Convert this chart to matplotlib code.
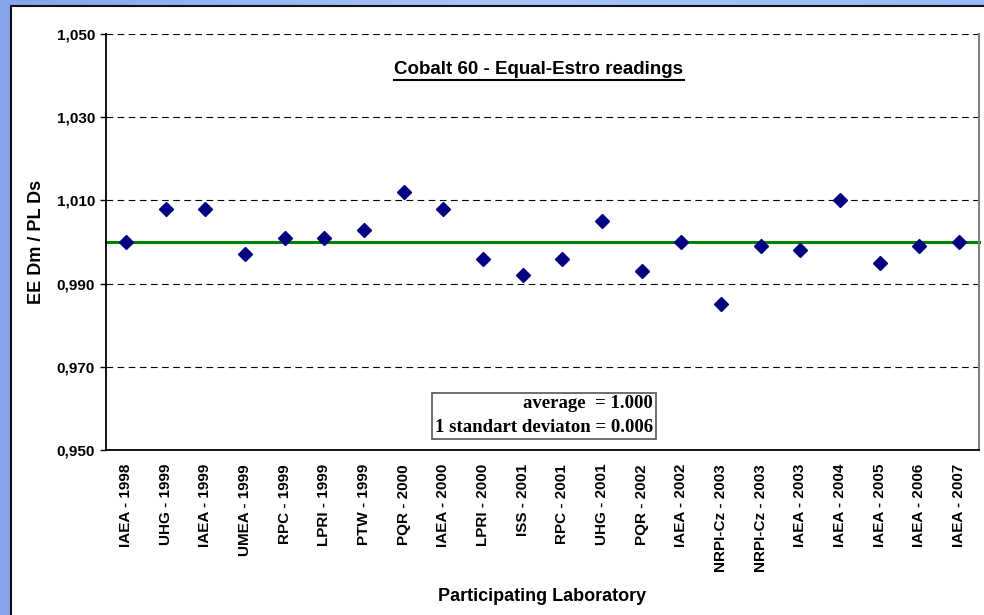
import numpy as np
import matplotlib.pyplot as plt
from matplotlib.patches import Rectangle
from matplotlib.colors import LinearSegmentedColormap
from matplotlib.ticker import FuncFormatter

labs = ['IAEA - 1998', 'UHG - 1999', 'IAEA - 1999', 'UMEA - 1999', 'RPC - 1999',
        'LPRI - 1999', 'PTW - 1999', 'PQR - 2000', 'IAEA - 2000', 'LPRI - 2000',
        'ISS - 2001', 'RPC - 2001', 'UHG - 2001', 'PQR - 2002', 'IAEA - 2002',
        'NRPI-Cz - 2003', 'NRPI-Cz - 2003', 'IAEA - 2003', 'IAEA - 2004',
        'IAEA - 2005', 'IAEA - 2006', 'IAEA - 2007']
ratio = [1.000, 1.008, 1.008, 0.997, 1.001, 1.001, 1.003, 1.012, 1.008, 0.996,
         0.992, 0.996, 1.005, 0.993, 1.000, 0.985, 0.999, 0.998, 1.010, 0.995,
         0.999, 1.000]
avg = 1.000
yticks = [0.95, 0.97, 0.99, 1.01, 1.03, 1.05]

plt.rcParams['font.family'] = 'Liberation Sans'

fig = plt.figure(figsize=(9.84, 6.15), dpi=100)

# blue gradient background with the white chart panel
bg = fig.add_axes([0, 0, 1, 1], zorder=-10)
grad = np.linspace(0, 1, 256).reshape(1, -1)
bg.imshow(grad, aspect='auto', extent=[0, 1, 0, 1],
          cmap=LinearSegmentedColormap.from_list('b', ['#86a4ec', '#a9c4fb', '#9ab8f6']))
bg.add_patch(Rectangle((11 / 984, -0.05), 1.1, 1.05 - 6 / 615, facecolor='white',
                       edgecolor='#111111', lw=1.5))
bg.set_xlim(0, 1)
bg.set_ylim(0, 1)
bg.axis('off')

W, H = 984, 615
ax = fig.add_axes([106 / W, 1 - 450 / H, (979 - 106) / W, (450 - 34) / H])
ax.set_facecolor('white')

x = np.arange(len(ratio))
for yv in yticks[1:]:
    ax.axhline(yv, color='black', lw=0.8, ls=(0, (6, 4)), zorder=1)
ax.axhline(avg, color='#008000', lw=2.2, zorder=2, clip_on=False)
ax.plot(x, ratio, ls='none', marker='D', ms=7.5, color='#000080', zorder=3)

ax.set_xlim(-0.5, len(ratio) - 0.5)
ax.set_ylim(0.95, 1.05)
ax.set_yticks(yticks)
ax.yaxis.set_major_formatter(FuncFormatter(lambda v, p: f'{v:.3f}'.replace('.', ',')))
ax.set_xticks(x)
ax.set_xticklabels(labs, rotation=90, fontweight='bold', fontsize=11)
ax.tick_params(axis='x', length=0, pad=10)
ax.tick_params(axis='y', length=4, width=1, labelsize=11, pad=4)
for t in ax.get_yticklabels():
    t.set_fontweight('bold')

ax.spines['top'].set_visible(False)
ax.spines['right'].set_color('#808080')
ax.spines['right'].set_linewidth(1.5)
ax.spines['left'].set_linewidth(1.3)
ax.spines['bottom'].set_linewidth(1.3)

ax.set_ylabel('EE Dm / PL Ds', fontsize=13, fontweight='bold', labelpad=8)
ax.set_xlabel('Participating Laboratory', fontsize=13, fontweight='bold', labelpad=12)

ax.text((539 - 106) / 873, 0.915, 'Cobalt 60 - Equal-Estro readings',
        transform=ax.transAxes, ha='center', va='center', fontsize=13.5,
        fontweight='bold')
# underline for the title
ax.plot([(394 - 106) / 873, (684 - 106) / 873], [1 - (80 - 34) / 416] * 2,
        transform=ax.transAxes, color='black', lw=1.5)

ax.text(0.6265, 0.0825, 'average  = 1.000\n1 standart deviaton = 0.006',
        transform=ax.transAxes, ha='right', va='center', fontsize=13.5,
        fontweight='bold', family='Liberation Serif', linespacing=1.5,
        bbox=dict(boxstyle='square,pad=0.15', facecolor='white',
                  edgecolor='#555555', lw=1.2))

fig.savefig('out.png', dpi=100)
